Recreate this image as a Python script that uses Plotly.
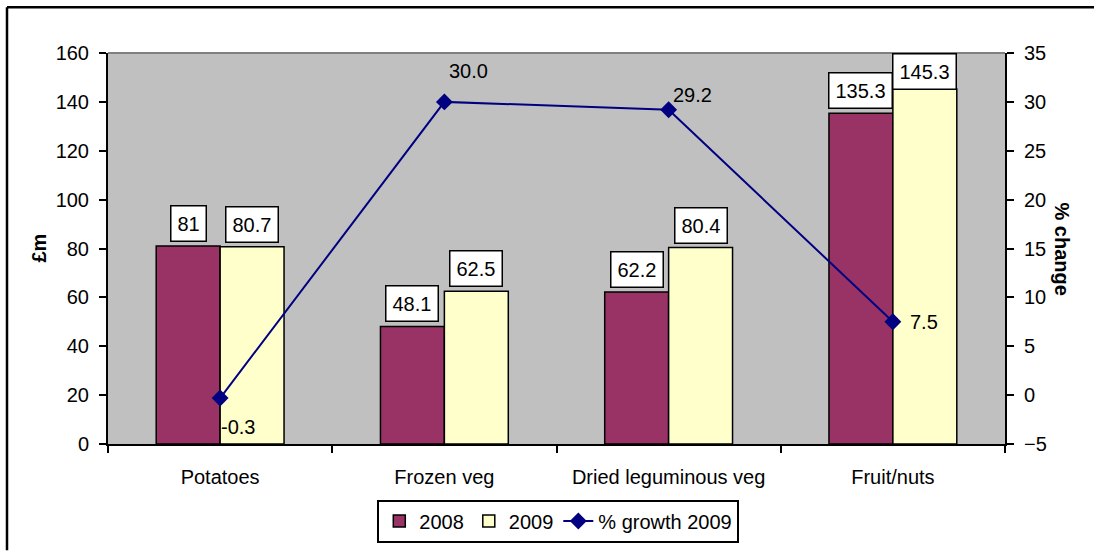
import plotly.graph_objects as go

categories = ["Potatoes", "Frozen veg", "Dried leguminous veg", "Fruit/nuts"]
values_2008 = [81, 48.1, 62.2, 135.3]
values_2009 = [80.7, 62.5, 80.4, 145.3]
growth_2009 = [-0.3, 30.0, 29.2, 7.5]
label_2008 = ["81", "48.1", "62.2", "135.3"]
label_2009 = ["80.7", "62.5", "80.4", "145.3"]
growth_labels = ["-0.3", "30.0", "29.2", "7.5"]

FONT = "Liberation Sans, Arial, sans-serif"
MAROON = "#993366"
CREAM = "#FFFFCC"
NAVY = "#000080"
BARGAP = 0.43
YMAX = 160
FS = 20

fig = go.Figure()
fig.add_trace(go.Bar(x=categories, y=values_2008, name="2008",
                     marker=dict(color=MAROON, line=dict(color="black", width=1.5))))
fig.add_trace(go.Bar(x=categories, y=values_2009, name="2009",
                     marker=dict(color=CREAM, line=dict(color="black", width=1.5))))
fig.add_trace(go.Scatter(x=categories, y=growth_2009, name="% growth 2009", yaxis="y2",
                         mode="lines+markers",
                         line=dict(color=NAVY, width=2),
                         marker=dict(symbol="diamond", size=13, color=NAVY)))

annotations = []
off = (1 - BARGAP) / 4
for i, (v1, v2, t1, t2) in enumerate(zip(values_2008, values_2009, label_2008, label_2009)):
    for xpos, v, t in ((i - off, v1, t1), (i + off, v2, t2)):
        if v > 140:
            y, anchor, ys = YMAX, "top", 0
        else:
            y, anchor, ys = v, "bottom", 4
        annotations.append(dict(x=xpos, y=y, xref="x", yref="y",
                                text=t, showarrow=False, yanchor=anchor, yshift=ys,
                                font=dict(family=FONT, size=FS, color="black"),
                                bgcolor="white", bordercolor="black", borderwidth=1.5,
                                borderpad=6))

g_shifts = [(18, -29), (24, 31), (24, 15), (31, 0)]
for i, (g, t) in enumerate(zip(growth_2009, growth_labels)):
    xs, ys = g_shifts[i]
    annotations.append(dict(x=i, y=g, xref="x", yref="y2", text=t, showarrow=False,
                            xshift=xs, yshift=ys,
                            font=dict(family=FONT, size=FS, color="black")))

annotations.append(dict(x=-70 / 897, y=0.5, xref="paper", yref="paper", text="<b>£m</b>",
                        showarrow=False, textangle=-90, xanchor="center", yanchor="middle",
                        font=dict(family=FONT, size=FS, color="black")))
annotations.append(dict(x=1 + 57 / 897, y=(447 - 250) / 394, xref="paper", yref="paper",
                        text="<b>% change</b>", showarrow=False, textangle=90,
                        xanchor="center", yanchor="middle",
                        font=dict(family=FONT, size=FS, color="black")))

fig.update_layout(
    width=1094, height=554,
    margin=dict(l=108, r=89, t=53, b=107),
    paper_bgcolor="white", plot_bgcolor="#C0C0C0",
    barmode="group", bargap=BARGAP, bargroupgap=0,
    font=dict(family=FONT, size=FS, color="black"),
    showlegend=True,
    legend=dict(orientation="h", x=0.502, xanchor="center", y=-0.142, yanchor="top",
                bgcolor="white", bordercolor="black", borderwidth=2,
                font=dict(family=FONT, size=FS, color="black"),
                traceorder="normal"),
    xaxis=dict(type="category", tickson="boundaries", ticks="outside", ticklen=7,
               tickwidth=2, tickcolor="black", showline=True, linecolor="black",
               linewidth=2, showgrid=False, ticklabelstandoff=14,
               tickfont=dict(family=FONT, size=FS)),
    yaxis=dict(range=[0, YMAX], dtick=20, ticks="outside", ticklen=7, tickwidth=2,
               tickcolor="black", showline=True, linecolor="black", linewidth=2,
               showgrid=False, zeroline=False, ticklabelstandoff=6,
               tickfont=dict(family=FONT, size=FS)),
    yaxis2=dict(range=[-5, 35], dtick=5, overlaying="y", side="right", ticks="outside",
                ticklen=7, tickwidth=2, tickcolor="black", showline=True,
                linecolor="black", linewidth=2, showgrid=False, zeroline=False,
                ticklabelstandoff=6, tickfont=dict(family=FONT, size=FS)),
    annotations=annotations,
    shapes=[
        dict(type="line", xref="paper", yref="paper", x0=0, x1=1, y0=1, y1=1,
             line=dict(color="#808080", width=2)),
        dict(type="line", xref="paper", yref="paper",
             x0=(7 - 108) / 897, x1=(7 - 108) / 897,
             y0=(447 - 554) / 394, y1=(447 - 7) / 394,
             line=dict(color="black", width=2.5)),
        dict(type="line", xref="paper", yref="paper",
             x0=(7 - 108) / 897, x1=(1094 - 108) / 897,
             y0=(447 - 7) / 394, y1=(447 - 7) / 394,
             line=dict(color="black", width=2.5)),
    ],
)

fig.write_html("out.html")
